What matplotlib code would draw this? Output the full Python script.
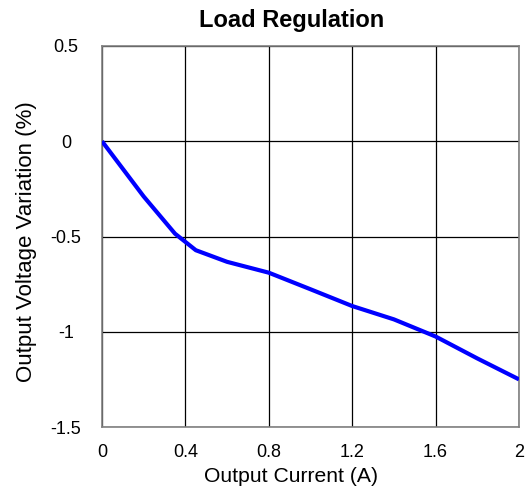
import matplotlib
matplotlib.use("Agg")
import matplotlib.pyplot as plt

plt.rcParams['font.family'] = ['Liberation Sans', 'DejaVu Sans']

current = [0, 0.2, 0.35, 0.45, 0.6, 0.8, 1.0, 1.2, 1.4, 1.6, 1.8, 2.0]
variation = [0, -0.29, -0.485, -0.572, -0.633, -0.69, -0.777, -0.865, -0.935, -1.025, -1.14, -1.25]
xticks = [0, 0.4, 0.8, 1.2, 1.6, 2.0]
xticklabels = ["0", "0.4", "0.8", "1.2", "1.6", "2"]
yticks = [0.5, 0, -0.5, -1, -1.5]
yticklabels = ["0.5", "0", "-0.5", "-1", "-1.5"]

W, H = 528, 493
fig = plt.figure(figsize=(W / 100, H / 100), dpi=100)
ax = fig.add_axes([102 / W, 66 / H, 417 / W, 381 / H])
ax.plot(current, variation, color='#0000ff', lw=3, solid_capstyle='butt', zorder=3)
ax.set_xlim(0, 2)
ax.set_ylim(-1.5, 0.5)
ax.set_xticks(xticks)
ax.set_xticklabels(xticklabels)
ax.set_yticks(yticks)
ax.set_yticklabels(yticklabels, ha='center')
ax.grid(True, color='black', lw=0.9)
ax.tick_params(axis='x', length=0, labelsize=13, pad=12)
ax.tick_params(axis='y', length=0, labelsize=13, pad=26)
for s in ax.spines.values():
    s.set_color('#808080')
    s.set_linewidth(1.2)

fig.text(291.5 / W, 1 - 20 / H, "Load Regulation", fontsize=17, fontweight='bold',
         ha='center', va='center')
fig.text(291.5 / W, 1 - 477 / H, "Output Current (A)", fontsize=15.2,
         ha='center', va='center')
fig.text(27 / W, 1 - 241.5 / H, "Output Voltage Variation (%)", fontsize=16,
         ha='center', va='center', rotation=90)
fig.savefig("out.png", dpi=100)
